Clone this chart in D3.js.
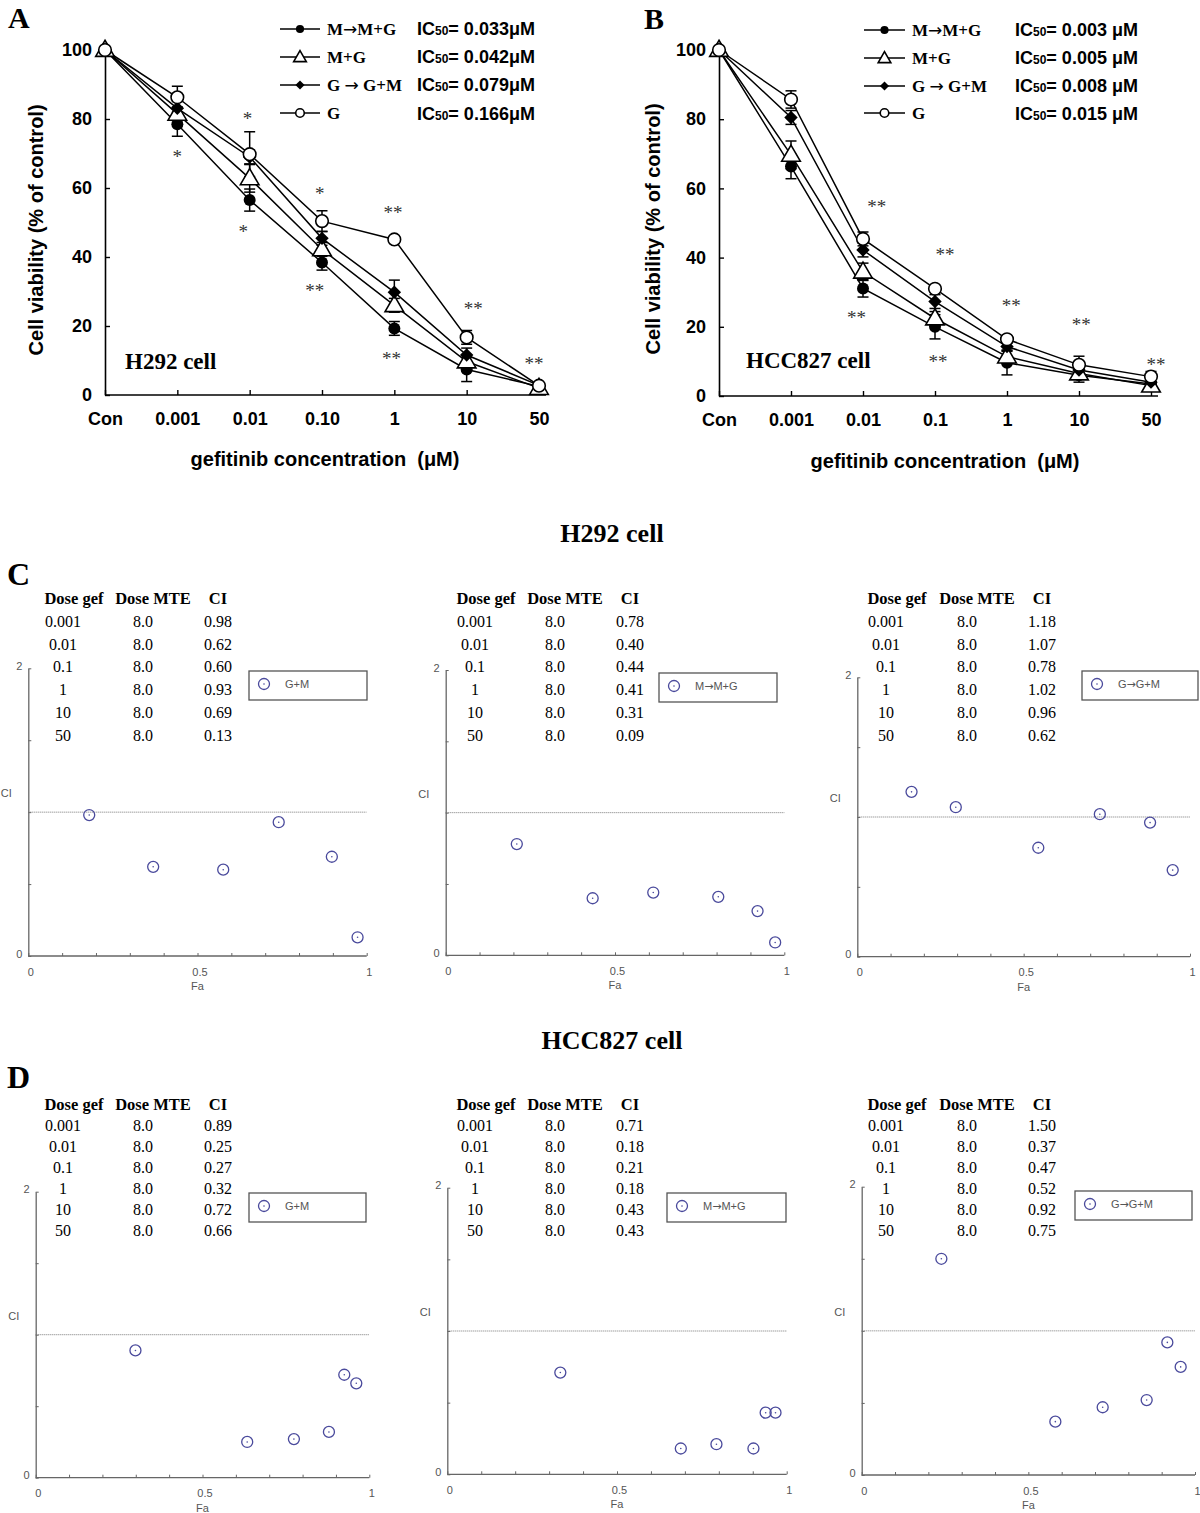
<!DOCTYPE html>
<html><head><meta charset="utf-8">
<script src="https://cdn.jsdelivr.net/npm/d3@7"></script>
<style>body{margin:0;background:#fff;} svg{display:block;}</style>
</head><body>
<svg id="fig" width="1200" height="1513"></svg>
<script>
// ---------------- DATA ----------------
const seriesLabels = ["M\u2192M+G", "M+G", "G \u2192 G+M", "G"];
const seriesMarkers = ["dot", "tri", "dia", "ring"];
const yTicksViab = [0, 20, 40, 60, 80, 100];

// Panel A: H292
const catsA = ["Con", "0.001", "0.01", "0.10", "1", "10", "50"];
const A_MMG = [100, 78.5, 56.5, 38.4, 19.3, 7.4, 2.5];
const A_MMG_err = [0, 3.5, 3.2, 2.2, 2.0, 3.5, 0.5];
const A_MG = [100, 81.5, 62.8, 42.2, 26.0, 9.7, 2.0];
const A_MG_err = [0, 2.0, 4.0, 2.0, 2.0, 2.0, 0.5];
const A_GGM = [100, 83.1, 69.0, 45.4, 29.8, 11.6, 2.8];
const A_GGM_err = [0, 2.0, 2.0, 2.0, 3.5, 2.0, 0.5];
const A_G = [100, 86.3, 69.8, 50.4, 45.1, 16.7, 2.7];
const A_G_err = [0, 3.2, 6.5, 3.0, 1.0, 2.0, 0.5];
const A_ic50 = ["0.033\u03bcM", "0.042\u03bcM", "0.079\u03bcM", "0.166\u03bcM"];
// significance marks: [fractional category index, value, text]
const A_stars = [[1.0, 70, "*"], [1.97, 81, "*"], [1.91, 48, "*"], [2.97, 59, "*"], [2.90, 31, "**"],
                 [3.98, 53.6, "**"], [3.96, 11.3, "**"], [5.09, 25.8, "**"], [5.93, 10, "**"]];

// Panel B: HCC827
const catsB = ["Con", "0.001", "0.01", "0.1", "1", "10", "50"];
const B_MMG = [100, 66.3, 31.1, 20.0, 9.6, 6.0, 3.5];
const B_MMG_err = [0, 3.5, 2.5, 3.5, 3.5, 2.0, 0.5];
const B_MG = [100, 69.7, 35.9, 22.4, 11.4, 6.5, 3.0];
const B_MG_err = [0, 4.0, 2.5, 2.0, 1.5, 1.5, 1.0];
const B_GGM = [100, 80.5, 42.2, 27.3, 14.3, 7.5, 4.0];
const B_GGM_err = [0, 2.0, 2.0, 2.0, 1.0, 1.0, 1.0];
const B_G = [100, 85.7, 45.4, 31.0, 16.4, 9.0, 5.6];
const B_G_err = [0, 2.5, 2.0, 1.0, 1.0, 2.5, 1.5];
const B_ic50 = ["0.003 \u03bcM", "0.005 \u03bcM", "0.008 \u03bcM", "0.015 \u03bcM"];
const B_stars = [[2.19, 55.5, "**"], [1.91, 23.4, "**"], [3.14, 41.6, "**"], [3.04, 10.7, "**"],
                 [4.06, 26.8, "**"], [5.03, 21.4, "**"], [6.07, 9.9, "**"]];

// Combination index tables / plots
const doseGef = ["0.001", "0.01", "0.1", "1", "10", "50"];
const doseMTE = ["8.0", "8.0", "8.0", "8.0", "8.0", "8.0"];
const ciLegend = ["G+M", "M\u2192M+G", "G\u2192G+M"];
const C1_CI = [0.98, 0.62, 0.60, 0.93, 0.69, 0.13];
const C1_Fa = [0.180, 0.369, 0.576, 0.740, 0.897, 0.973];
const C2_CI = [0.78, 0.40, 0.44, 0.41, 0.31, 0.09];
const C2_Fa = [0.210, 0.434, 0.613, 0.805, 0.921, 0.973];
const C3_CI = [1.18, 1.07, 0.78, 1.02, 0.96, 0.62];
const C3_Fa = [0.163, 0.296, 0.544, 0.729, 0.880, 0.948];
const D1_CI = [0.89, 0.25, 0.27, 0.32, 0.72, 0.66];
const D1_Fa = [0.299, 0.634, 0.774, 0.879, 0.925, 0.961];
const D2_CI = [0.71, 0.18, 0.21, 0.18, 0.43, 0.43];
const D2_Fa = [0.333, 0.688, 0.793, 0.902, 0.938, 0.967];
const D3_CI = [1.50, 0.37, 0.47, 0.52, 0.92, 0.75];
const D3_Fa = [0.239, 0.581, 0.723, 0.855, 0.917, 0.957];

// ---------------- DRAWING ----------------
const SERIF = "'Liberation Serif','Times New Roman',serif";
const SANS = "'Liberation Sans',Arial,Helvetica,sans-serif";
const ARROWFONT = "'DejaVu Sans',sans-serif";
const svg = d3.select("#fig");

// write a label into a text element, giving the arrow glyph a font where it is long
function arrowText(t, label, arrowSize) {
  const parts = label.split("\u2192");
  parts.forEach((part, i) => {
    if (i > 0) t.append("tspan").attr("font-family", ARROWFONT).attr("font-weight", "normal")
      .attr("font-size", arrowSize).text("\u2192");
    if (part) t.append("tspan").text(part);
  });
}

function drawMarker(g, type, cx, cy, s) {
  if (type === "dot") {
    g.append("circle").attr("cx", cx).attr("cy", cy).attr("r", 6 * s).attr("fill", "#000");
  } else if (type === "ring") {
    g.append("circle").attr("cx", cx).attr("cy", cy).attr("r", 6.3 * s)
      .attr("fill", "#fff").attr("stroke", "#000").attr("stroke-width", 1.6);
  } else if (type === "tri") {
    g.append("path").attr("d", d3.symbol(d3.symbolTriangle, 150 * s * s)())
      .attr("transform", `translate(${cx},${cy + 1})`)
      .attr("fill", "#fff").attr("stroke", "#000").attr("stroke-width", 1.6);
  } else if (type === "dia") {
    g.append("path").attr("d", d3.symbol(d3.symbolSquare, 90 * s * s)())
      .attr("transform", `translate(${cx},${cy}) rotate(45)`).attr("fill", "#000");
  }
}

function drawViability(p) {
  const g = svg.append("g");
  const x = d3.scalePoint(p.cats, p.xRange);
  const xi = d3.scaleLinear([0, p.cats.length - 1], p.xRange);
  const y = d3.scaleLinear([0, 100], p.yRange);

  // axes
  const yAx = g.append("g").attr("transform", `translate(${p.xRange[0]},0)`)
    .call(d3.axisLeft(y).tickValues(yTicksViab).tickSizeInner(-5).tickSizeOuter(0).tickPadding(13));
  const xAx = g.append("g").attr("transform", `translate(0,${p.yRange[0]})`)
    .call(d3.axisBottom(x).tickSizeInner(-5).tickSizeOuter(0).tickPadding(17));
  xAx.select(".domain").attr("d", `M${p.xRange[0]},0H${p.xRange[1] + 7}`);
  [xAx, yAx].forEach(a => {
    a.select(".domain").attr("stroke", "#000").attr("stroke-width", 1.6);
    a.selectAll(".tick line").attr("stroke", "#000").attr("stroke-width", 1.4);
    a.selectAll("text").attr("font-family", SANS).attr("font-weight", "bold")
      .attr("font-size", 18).attr("fill", "#000");
  });

  // axis titles
  g.append("text").attr("transform", `translate(${p.yTitle[0]},${p.yTitle[1]}) rotate(-90)`)
    .attr("text-anchor", "middle").attr("font-family", SANS).attr("font-weight", "bold")
    .attr("font-size", 20).text("Cell viability (% of control)");
  g.append("text").attr("x", p.xTitle[0]).attr("y", p.xTitle[1])
    .attr("text-anchor", "middle").attr("font-family", SANS).attr("font-weight", "bold")
    .attr("font-size", 20).attr("xml:space", "preserve").text("gefitinib concentration  (\u03bcM)");

  const line = d3.line().x((d, j) => x(p.cats[j])).y(d => y(d));
  p.series.forEach(s => {
    g.append("path").datum(s.v).attr("d", line).attr("fill", "none")
      .attr("stroke", "#000").attr("stroke-width", 1.5);
  });
  // error bars
  p.series.forEach(s => {
    s.v.forEach((v, j) => {
      const e = s.e[j];
      if (!e) return;
      const cx = x(p.cats[j]);
      const eg = g.append("g").attr("stroke", "#000").attr("stroke-width", 1.5);
      eg.append("line").attr("x1", cx).attr("x2", cx).attr("y1", y(v - e)).attr("y2", y(v + e));
      [v - e, v + e].forEach(t => eg.append("line").attr("x1", cx - 5.5).attr("x2", cx + 5.5)
        .attr("y1", y(t)).attr("y2", y(t)));
    });
  });
  // markers
  p.series.forEach((s, k) => {
    s.v.forEach((v, j) => drawMarker(g, seriesMarkers[k], x(p.cats[j]), y(v), 1));
  });
  // stars
  p.stars.forEach(([ci, v, t]) => {
    g.append("text").attr("x", xi(ci)).attr("y", y(v) + 9).attr("text-anchor", "middle")
      .attr("font-family", SERIF).attr("font-size", 19).attr("fill", "#333").text(t);
  });
  // cell label
  g.append("text").attr("x", p.cell[0]).attr("y", p.cell[1]).attr("font-family", SERIF)
    .attr("font-weight", "bold").attr("font-size", 23).text(p.cellName);
  // panel letter
  g.append("text").attr("x", p.letter[0]).attr("y", p.letter[1]).attr("font-family", SERIF)
    .attr("font-weight", "bold").attr("font-size", 30).text(p.letterText);
  // legend
  seriesLabels.forEach((lab, k) => {
    const ly = p.leg.y[k];
    g.append("line").attr("x1", p.leg.x1).attr("x2", p.leg.x2).attr("y1", ly).attr("y2", ly)
      .attr("stroke", "#000").attr("stroke-width", 1.5);
    drawMarker(g, seriesMarkers[k], (p.leg.x1 + p.leg.x2) / 2, ly, 0.68);
    const lt = g.append("text").attr("x", p.leg.tx).attr("y", ly + 6).attr("font-family", SERIF)
      .attr("font-weight", "bold").attr("font-size", 17);
    arrowText(lt, lab, 17);
    const t = g.append("text").attr("x", p.leg.icx).attr("y", ly + 6 + (k === 3 ? 1 : 0))
      .attr("font-family", SANS).attr("font-weight", "bold").attr("font-size", 18);
    t.append("tspan").text("IC");
    t.append("tspan").attr("font-size", 12).text("50");
    t.append("tspan").text("= " + p.ic50[k]);
  });
}

drawViability({
  cats: catsA, xRange: [105, 539], yRange: [395, 50],
  series: [{v: A_MMG, e: A_MMG_err}, {v: A_MG, e: A_MG_err}, {v: A_GGM, e: A_GGM_err}, {v: A_G, e: A_G_err}],
  stars: A_stars, ic50: A_ic50,
  yTitle: [43, 230], xTitle: [325, 466],
  cell: [125, 369], cellName: "H292 cell",
  letter: [8, 28], letterText: "A",
  leg: {x1: 280, x2: 320, tx: 327, icx: 417, y: [29, 57, 85, 113]}
});
drawViability({
  cats: catsB, xRange: [719, 1151], yRange: [396, 50],
  series: [{v: B_MMG, e: B_MMG_err}, {v: B_MG, e: B_MG_err}, {v: B_GGM, e: B_GGM_err}, {v: B_G, e: B_G_err}],
  stars: B_stars, ic50: B_ic50,
  yTitle: [660, 229], xTitle: [945, 468],
  cell: [746, 368], cellName: "HCC827 cell",
  letter: [644, 29], letterText: "B",
  leg: {x1: 864, x2: 905, tx: 912, icx: 1015, y: [30, 58, 86, 113]}
});

// section titles
[["H292 cell", 542], ["HCC827 cell", 1049]].forEach(([t, yy]) => {
  svg.append("text").attr("x", 612).attr("y", yy).attr("text-anchor", "middle")
    .attr("font-family", SERIF).attr("font-weight", "bold").attr("font-size", 26).text(t);
});
[["C", 585], ["D", 1088]].forEach(([t, yy]) => {
  svg.append("text").attr("x", 7).attr("y", yy).attr("font-family", SERIF)
    .attr("font-weight", "bold").attr("font-size", 32).text(t);
});

function drawCI(p) {
  const g = svg.append("g");
  const x = d3.scaleLinear([0, 1], [p.x0, p.x1]);
  const y = d3.scaleLinear([0, 2], [p.y0, p.y2]);
  const AX = "#666", TX = "#555";
  const xa = g.append("g").attr("transform", `translate(0,${p.y0})`)
    .call(d3.axisBottom(x).tickValues(d3.range(0, 11).map(i => i / 10)).tickSizeInner(-3).tickSizeOuter(0)
      .tickPadding(12).tickFormat(d => (Math.abs(d) < 1e-9 ? "0" : Math.abs(d - 0.5) < 1e-9 ? "0.5" : Math.abs(d - 1) < 1e-9 ? "1" : "")));
  const ya = g.append("g").attr("transform", `translate(${p.x0},0)`)
    .call(d3.axisLeft(y).tickValues([0, 0.5, 1, 1.5, 2]).tickSizeInner(-3).tickSizeOuter(0)
      .tickPadding(6).tickFormat(d => (d === 0 ? "0" : d === 2 ? "2" : "")));
  [xa, ya].forEach(a => {
    a.select(".domain").attr("stroke", AX).attr("stroke-width", 1.3);
    a.selectAll(".tick line").attr("stroke", AX).attr("stroke-width", 1);
    a.selectAll("text").attr("font-family", SANS).attr("font-size", 11).attr("fill", TX);
  });
  xa.selectAll(".tick text").attr("dx", 2);
  ya.selectAll(".tick text").attr("dy", "0.1em");
  xa.select(".domain").attr("d", `M${p.x0},0H${p.x1}`);
  g.append("text").attr("x", x(0.5)).attr("y", p.y0 + 34).attr("text-anchor", "middle")
    .attr("font-family", SANS).attr("font-size", 11).attr("fill", TX).text("Fa");
  g.append("text").attr("x", p.x0 - 22).attr("y", y(1) - 15).attr("text-anchor", "middle")
    .attr("font-family", SANS).attr("font-size", 11).attr("fill", TX).text("CI");
  // reference line CI = 1
  g.append("line").attr("x1", p.x0).attr("x2", p.x1).attr("y1", y(1)).attr("y2", y(1))
    .attr("stroke", "#777").attr("stroke-width", 1).attr("stroke-dasharray", "1,1");
  // points
  const COL = "#4a4a9c";
  p.fa.forEach((f, i) => {
    g.append("circle").attr("cx", x(f)).attr("cy", y(p.ci[i])).attr("r", 5.5)
      .attr("fill", "none").attr("stroke", COL).attr("stroke-width", 1.3);
    g.append("circle").attr("cx", x(f)).attr("cy", y(p.ci[i])).attr("r", 0.8).attr("fill", COL);
  });
  // legend box
  g.append("rect").attr("x", p.box[0]).attr("y", p.box[1]).attr("width", p.box[2]).attr("height", 29)
    .attr("fill", "#fff").attr("stroke", "#555").attr("stroke-width", 1.3);
  g.append("circle").attr("cx", p.box[0] + 15).attr("cy", p.box[1] + 13).attr("r", 5.5)
    .attr("fill", "none").attr("stroke", COL).attr("stroke-width", 1.3);
  g.append("circle").attr("cx", p.box[0] + 15).attr("cy", p.box[1] + 13).attr("r", 0.8).attr("fill", COL);
  const lt = g.append("text").attr("x", p.box[0] + 36).attr("y", p.box[1] + 17).attr("font-family", SANS)
    .attr("font-size", 11).attr("fill", TX);
  arrowText(lt, p.legend, 11);
  // table
  const t = p.table;
  const head = [["Dose gef", t.gef + 11], ["Dose MTE", t.mte + 10], ["CI", t.ci]];
  head.forEach(([h, hx]) => g.append("text").attr("x", hx).attr("y", t.y0 + 6).attr("text-anchor", "middle")
    .attr("font-family", SERIF).attr("font-weight", "bold").attr("font-size", 16.5).text(h));
  doseGef.forEach((d, i) => {
    const ry = t.y0 + t.dy * (i + 1) + 6;
    [[d, t.gef], [doseMTE[i], t.mte], [p.ci[i].toFixed(2), t.ci]].forEach(([v, vx]) =>
      g.append("text").attr("x", vx).attr("y", ry).attr("text-anchor", "middle")
        .attr("font-family", SERIF).attr("font-size", 16).text(v));
  });
}

const tabC = y0 => ({y0: y0, dy: 22.8});
drawCI({x0: 28.3, x1: 366.7, y0: 956, y2: 668.3, fa: C1_Fa, ci: C1_CI, legend: ciLegend[0],
  box: [249, 671, 118], table: Object.assign({gef: 63, mte: 143, ci: 218}, tabC(598))});
drawCI({x0: 445.7, x1: 784.3, y0: 955.3, y2: 670, fa: C2_Fa, ci: C2_CI, legend: ciLegend[1],
  box: [659, 673, 118], table: Object.assign({gef: 475, mte: 555, ci: 630}, tabC(598))});
drawCI({x0: 857.3, x1: 1190, y0: 956.7, y2: 677.3, fa: C3_Fa, ci: C3_CI, legend: ciLegend[2],
  box: [1082, 671, 116], table: Object.assign({gef: 886, mte: 967, ci: 1042}, tabC(598))});
const tabD = {y0: 1104, dy: 21};
drawCI({x0: 35.7, x1: 369.3, y0: 1477.7, y2: 1191.7, fa: D1_Fa, ci: D1_CI, legend: ciLegend[0],
  box: [249, 1193, 117], table: Object.assign({gef: 63, mte: 143, ci: 218}, tabD)});
drawCI({x0: 447.3, x1: 786.7, y0: 1474.3, y2: 1187.7, fa: D2_Fa, ci: D2_CI, legend: ciLegend[1],
  box: [667, 1193, 119], table: Object.assign({gef: 475, mte: 555, ci: 630}, tabD)});
drawCI({x0: 861.7, x1: 1195, y0: 1475, y2: 1186.7, fa: D3_Fa, ci: D3_CI, legend: ciLegend[2],
  box: [1075, 1191, 117], table: Object.assign({gef: 886, mte: 967, ci: 1042}, tabD)});
</script>
</body></html>
